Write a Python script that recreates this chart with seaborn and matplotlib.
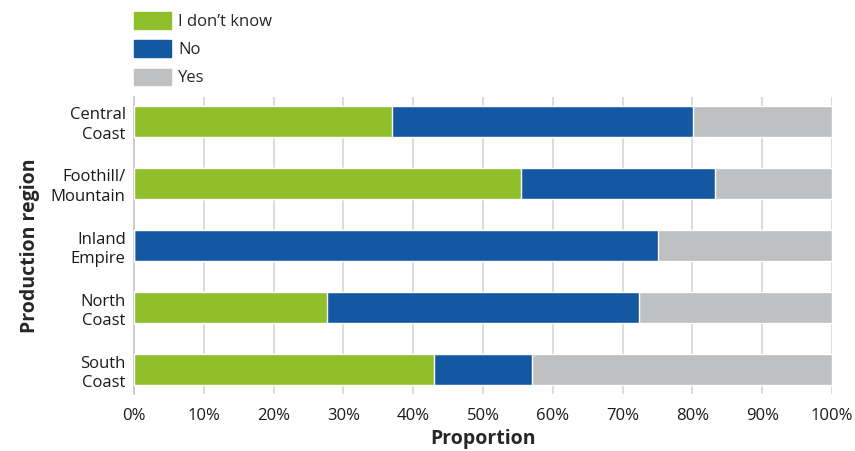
import matplotlib
matplotlib.use('Agg')
import matplotlib.pyplot as plt
from matplotlib.patches import Patch
from matplotlib.ticker import PercentFormatter
import seaborn as sns
import pandas as pd

# values (percent)
regions = ['Central\nCoast', 'Foothill/\nMountain', 'Inland\nEmpire', 'North\nCoast', 'South\nCoast']
dont_know = [37.0, 55.4, 0.0, 27.6, 43.0]
no = [43.1, 27.8, 75.0, 44.7, 14.0]
yes = [19.9, 16.8, 25.0, 27.7, 43.0]

GREEN = '#8FC02B'
BLUE = '#1458A2'
GRAY = '#BFC0C2'

df = pd.DataFrame({'region': regions, 'idk': dont_know, 'no': no, 'yes': yes})
df['cum_no'] = df['idk'] + df['no']
df['cum_yes'] = df['cum_no'] + df['yes']

sns.set_style('white')
plt.rcParams['font.family'] = ['Open Sans', 'DejaVu Sans']

fig = plt.figure(figsize=(8.55, 4.51), dpi=100)
ax = fig.add_axes([134/855, 1-394/451, (832-134)/855, (394-97)/451])

# stacked bars drawn back to front
sns.barplot(data=df, y='region', x='cum_yes', color=GRAY, width=0.5, saturation=1, ax=ax, zorder=2)
sns.barplot(data=df, y='region', x='cum_no', color=BLUE, width=0.5, saturation=1, ax=ax, zorder=3)
sns.barplot(data=df, y='region', x='idk', color=GREEN, width=0.5, saturation=1, ax=ax, zorder=4)

ax.set_xlim(0, 100)
ax.set_ylim(4.39, -0.39)
ax.set_xticks(range(0, 101, 10))
ax.xaxis.set_major_formatter(PercentFormatter(decimals=0))
ax.grid(axis='x', color='#D9D9D9', linewidth=1.3, zorder=0)
ax.set_axisbelow(True)
for s in ['top', 'right', 'bottom']:
    ax.spines[s].set_visible(False)
ax.spines['left'].set_color('#CCCCCC')
ax.spines['left'].set_linewidth(1.3)
ax.tick_params(axis='both', length=0, labelsize=12, colors='#1a1a1a', pad=6)
ax.tick_params(axis='x', pad=10)
for lab in ax.get_yticklabels():
    lab.set_horizontalalignment('right')
    lab.set_linespacing(1.3)

ax.set_xlabel('Proportion', fontsize=14, fontweight='bold', labelpad=4)
ax.set_ylabel('Production region', fontsize=14, fontweight='bold', labelpad=8)

handles = [Patch(color=GREEN, label='I don\u2019t know'),
           Patch(color=BLUE, label='No'),
           Patch(color=GRAY, label='Yes')]
fig.legend(handles=handles, loc='upper left', bbox_to_anchor=(134/855, 1-12/451),
           frameon=False, fontsize=12, handlelength=2.2, handleheight=1.15,
           handletextpad=0.45, labelspacing=0.62, borderaxespad=0, borderpad=0)

fig.savefig('out.png', dpi=100)
